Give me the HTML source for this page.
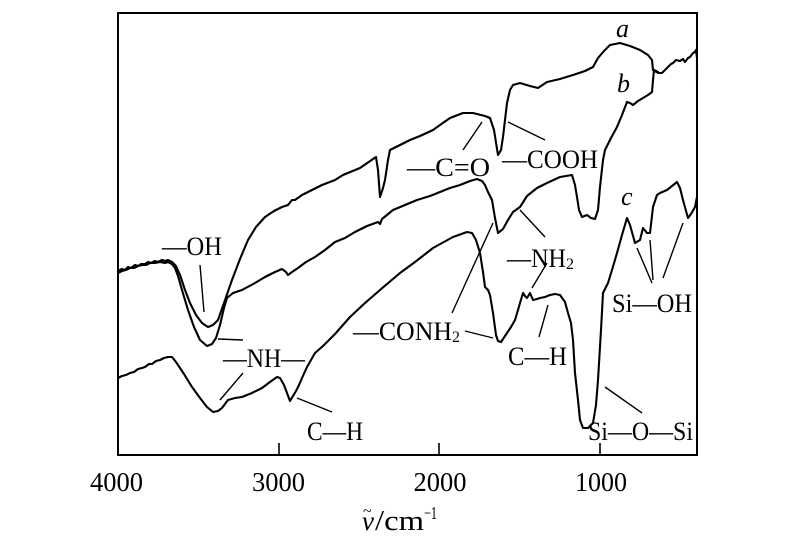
<!DOCTYPE html>
<html><head><meta charset="utf-8"><style>
html,body{margin:0;padding:0;background:#fff;}
svg{display:block;}
text{font-family:"Liberation Serif","DejaVu Serif",serif;fill:#000;}
</style></head><body>
<svg width="800" height="543" viewBox="0 0 800 543" xmlns="http://www.w3.org/2000/svg">
<rect x="0" y="0" width="800" height="543" fill="#fff"/>
<!-- frame -->
<rect x="118" y="13" width="579" height="442" fill="none" stroke="#000" stroke-width="2"/>
<g stroke="#000" stroke-width="1.6">
<line x1="279" y1="443" x2="279" y2="455"/>
<line x1="439" y1="443" x2="439" y2="455"/>
<line x1="600" y1="443" x2="600" y2="455"/>
</g>
<g font-size="27" text-anchor="middle">
<text x="116.5" y="491" textLength="53" lengthAdjust="spacingAndGlyphs">4000</text>
<text x="278.5" y="491" textLength="53" lengthAdjust="spacingAndGlyphs">3000</text>
<text x="440" y="491" textLength="53" lengthAdjust="spacingAndGlyphs">2000</text>
<text x="601" y="491" textLength="52" lengthAdjust="spacingAndGlyphs">1000</text>
</g>
<text x="362" y="530" font-size="27" font-style="italic">ν</text>
<text x="363" y="516" font-size="16">~</text>
<text x="375" y="530" font-size="28" textLength="49" lengthAdjust="spacingAndGlyphs">/cm</text>
<text x="424" y="519" font-size="18" textLength="13" lengthAdjust="spacingAndGlyphs">−1</text>

<g fill="none" stroke="#000" stroke-width="2.1" stroke-linejoin="round" stroke-linecap="round">
<!-- curve a -->
<polyline points="118,271 122,269 125,270 128,267 131,268 135,265 138,266 141,264 145,264 148,262 151,263 155,261 158,262 162,260 165,261 168,260 172,262 176,266 180,275 185,290 190,303 196,315 202,323 208,327 213,325 218,320 224,303 232,280 240,259 248,240 256,227 265,217 274,211 282,207 288,205 292,200 295,200 302,195 312,190 322,185 335,180 343,175 360,168 376,157 378,170 380,197 383,188 385,180 388,160 390,150 400,145 410,140 420,136 433,130 440,125 450,118 463,113 473,113 485,116 490,118 494,130 498,155 501,150 503,137 507,103 510,90 513,85 520,83 530,86 538,88 547,82 560,79 573,75 585,71 593,67 598,58 604,51 610,45 620,43 630,46 640,50 648,55 652,60 653,70 658,73 662,73 667,68 671,64 673,63 676,60 680,61 683,59 685,62 688,58 690,57 693,53 695,52 696,50 697,58 697,80"/>
<!-- curve b -->
<polyline points="118,273 122,271 126,270 130,268 134,268 138,266 142,265 146,265 150,263 155,263 160,262 165,263 168,262 172,264 175,268 178,276 182,290 188,310 194,327 200,340 207,346 212,344 216,338 220,325 224,308 227,298 233,293 242,290 255,283 265,277 275,272 282,269 286,272 288,275 292,272 298,268 306,262 315,257 325,250 335,242 345,238 355,232 367,226 378,222 380,224 382,219 393,210 405,205 417,200 430,196 440,192 450,188 460,185 470,181 477,179 482,181 485,185 488,192 492,200 495,218 498,233 503,229 508,220 513,212 520,207 527,196 537,188 547,183 560,177 572,175 575,185 577,197 579,210 582,217 587,215 591,218 595,219 598,210 600,187 603,160 605,150 611,138 617,127 622,115 627,102 630,103 633,105 638,101 643,98 648,95 652,92 653,80 654,70 658,72"/>
<!-- curve c -->
<polyline points="118,378 122,376 126,375 130,373 134,372 138,369 142,368 145,367 149,364 152,364 156,361 160,360 164,358 168,357 172,357 176,362 184,374 192,387 200,398 207,407 213,412 218,411 222,408 228,400 235,398 242,397 252,393 262,388 270,382 277,377 280,378 284,385 287,393 290,401 293,396 296,391 299,385 302,378 307,367 315,353 323,346 335,334 350,317 365,303 380,290 400,273 415,262 433,248 453,237 467,232 472,233 476,240 480,253 483,272 485,287 488,290 490,295 493,313 496,335 498,341 501,342 507,333 511,327 515,320 518,310 520,303 523,293 525,296 527,298 530,293 533,300 537,299 540,298 545,297 550,295 555,294 560,295 565,302 568,313 571,323 573,340 575,373 578,400 580,420 583,428 588,428 593,423 596,405 598,380 601,330 603,293 608,283 612,270 617,253 622,235 627,218 630,225 635,243 640,240 643,228 647,233 650,233 653,207 657,195 660,193 667,190 672,186 677,182 680,188 683,200 688,218 691,214 695,207 697,197"/>
</g>

<!-- leader lines -->
<g stroke="#000" stroke-width="1.4" fill="none">
<line x1="200" y1="265" x2="204" y2="312"/>
<line x1="218" y1="339" x2="243" y2="340"/>
<line x1="243" y1="373" x2="220" y2="400"/>
<line x1="297" y1="398" x2="332" y2="412"/>
<line x1="463" y1="150" x2="482" y2="122"/>
<line x1="508" y1="122" x2="545" y2="140"/>
<line x1="452" y1="313" x2="493" y2="223"/>
<line x1="465" y1="331" x2="493" y2="338"/>
<line x1="520" y1="210" x2="545" y2="237"/>
<line x1="547" y1="263" x2="532" y2="288"/>
<line x1="548" y1="305" x2="539" y2="337"/>
<line x1="637" y1="248" x2="652" y2="283"/>
<line x1="650" y1="240" x2="653" y2="280"/>
<line x1="683" y1="223" x2="663" y2="278"/>
<line x1="605" y1="387" x2="642" y2="413"/>
</g>

<!-- annotations -->
<g font-size="26">
<text x="162" y="255" textLength="60" lengthAdjust="spacingAndGlyphs">—OH</text>
<text x="407" y="176" textLength="83" lengthAdjust="spacingAndGlyphs">—C=O</text>
<text x="502" y="168" textLength="96" lengthAdjust="spacingAndGlyphs">—COOH</text>
<text x="223" y="367" textLength="82" lengthAdjust="spacingAndGlyphs">—NH—</text>
<text x="307" y="440" textLength="56" lengthAdjust="spacingAndGlyphs">C—H</text>
<text x="353" y="340" textLength="99" lengthAdjust="spacingAndGlyphs">—CONH</text>
<text x="452" y="342" font-size="16">2</text>
<text x="507" y="267" textLength="59" lengthAdjust="spacingAndGlyphs">—NH</text>
<text x="566" y="269" font-size="16">2</text>
<text x="508" y="365" textLength="59" lengthAdjust="spacingAndGlyphs">C—H</text>
<text x="612" y="312" textLength="80" lengthAdjust="spacingAndGlyphs">Si—OH</text>
<text x="588" y="440" textLength="105" lengthAdjust="spacingAndGlyphs">Si—O—Si</text>
<text x="616" y="37" font-style="italic">a</text>
<text x="617" y="92" font-style="italic">b</text>
<text x="621" y="205" font-style="italic">c</text>
</g>
</svg>
</body></html>
